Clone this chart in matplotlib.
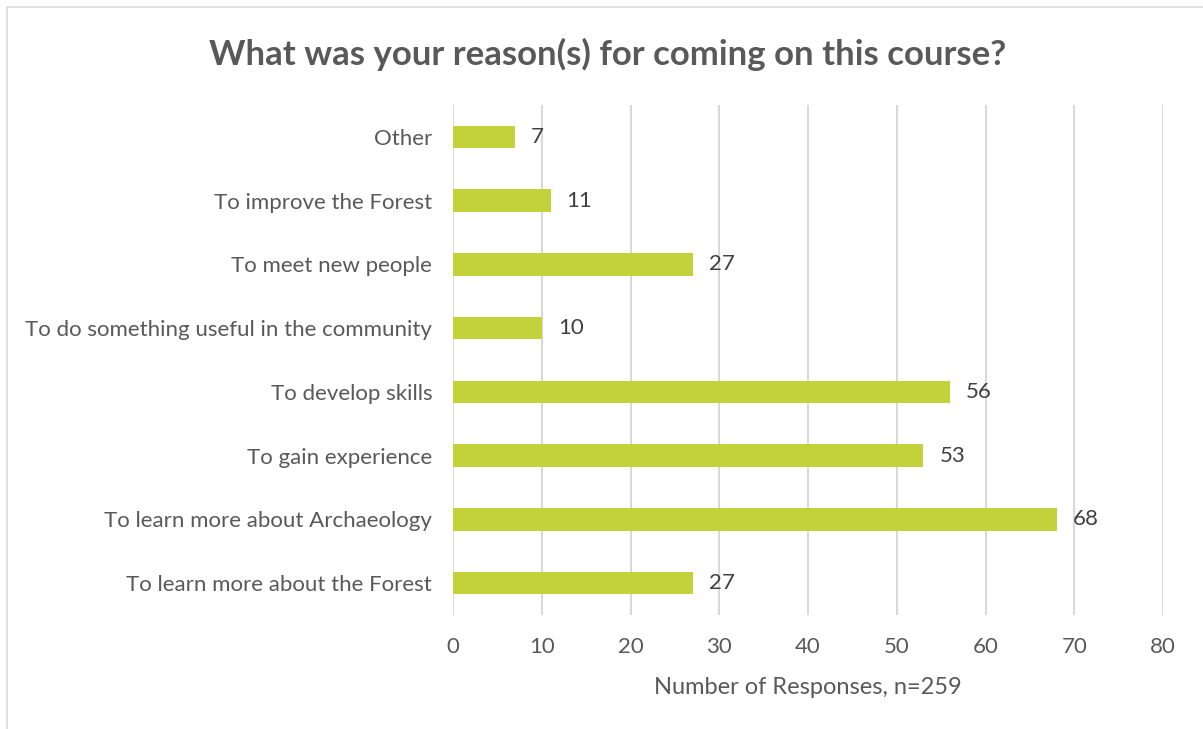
import matplotlib.pyplot as plt
from matplotlib.patches import Rectangle

# data (bottom to top)
categories = [
    'To learn more about the Forest',
    'To learn more about Archaeology',
    'To gain experience',
    'To develop skills',
    'To do something useful in the community',
    'To meet new people',
    'To improve the Forest',
    'Other',
]
responses = [27, 68, 53, 56, 10, 27, 11, 7]
x_ticks = [0, 10, 20, 30, 40, 50, 60, 70, 80]

bar_color = '#C3D13B'
text_color = '#595959'
grid_color = '#D9D9D9'

plt.rcParams['font.family'] = ['Lato', 'DejaVu Sans']

fig = plt.figure(figsize=(12.03, 7.29), dpi=100)
ax = fig.add_axes([0.3766, 0.1564, 0.5902, 0.6996])

# outer chart border (left and top visible)
fig.patches.append(Rectangle((7 / 1203, -0.1), 1.2, 1 - 7 / 729 + 0.1,
                             transform=fig.transFigure, fill=False,
                             edgecolor='#D9D9D9', linewidth=1.2))

y = range(len(categories))
ax.barh(y, responses, height=0.35, color=bar_color, zorder=3)

for yi, v in zip(y, responses):
    ax.text(v + 1.8, yi, str(v), va='center', ha='left', fontsize=16, color='#404040')

ax.set_xlim(0, 80)
ax.set_ylim(-0.5, len(categories) - 0.5)
ax.set_xticks(x_ticks)
ax.set_yticks(list(y))
ax.set_yticklabels(categories)
ax.tick_params(axis='both', length=0, colors=text_color, labelsize=16)
ax.tick_params(axis='x', pad=16)
ax.tick_params(axis='y', pad=15)
ax.grid(axis='x', color=grid_color, linewidth=1.5, zorder=0)
for s in ax.spines.values():
    s.set_visible(False)

ax.set_xlabel('Number of Responses, n=259', fontsize=17, color=text_color, labelpad=14)
fig.text(0.505, 0.926, 'What was your reason(s) for coming on this course?',
         ha='center', va='center', fontsize=25, fontweight='bold', color=text_color)

fig.savefig('out.png', dpi=100)
